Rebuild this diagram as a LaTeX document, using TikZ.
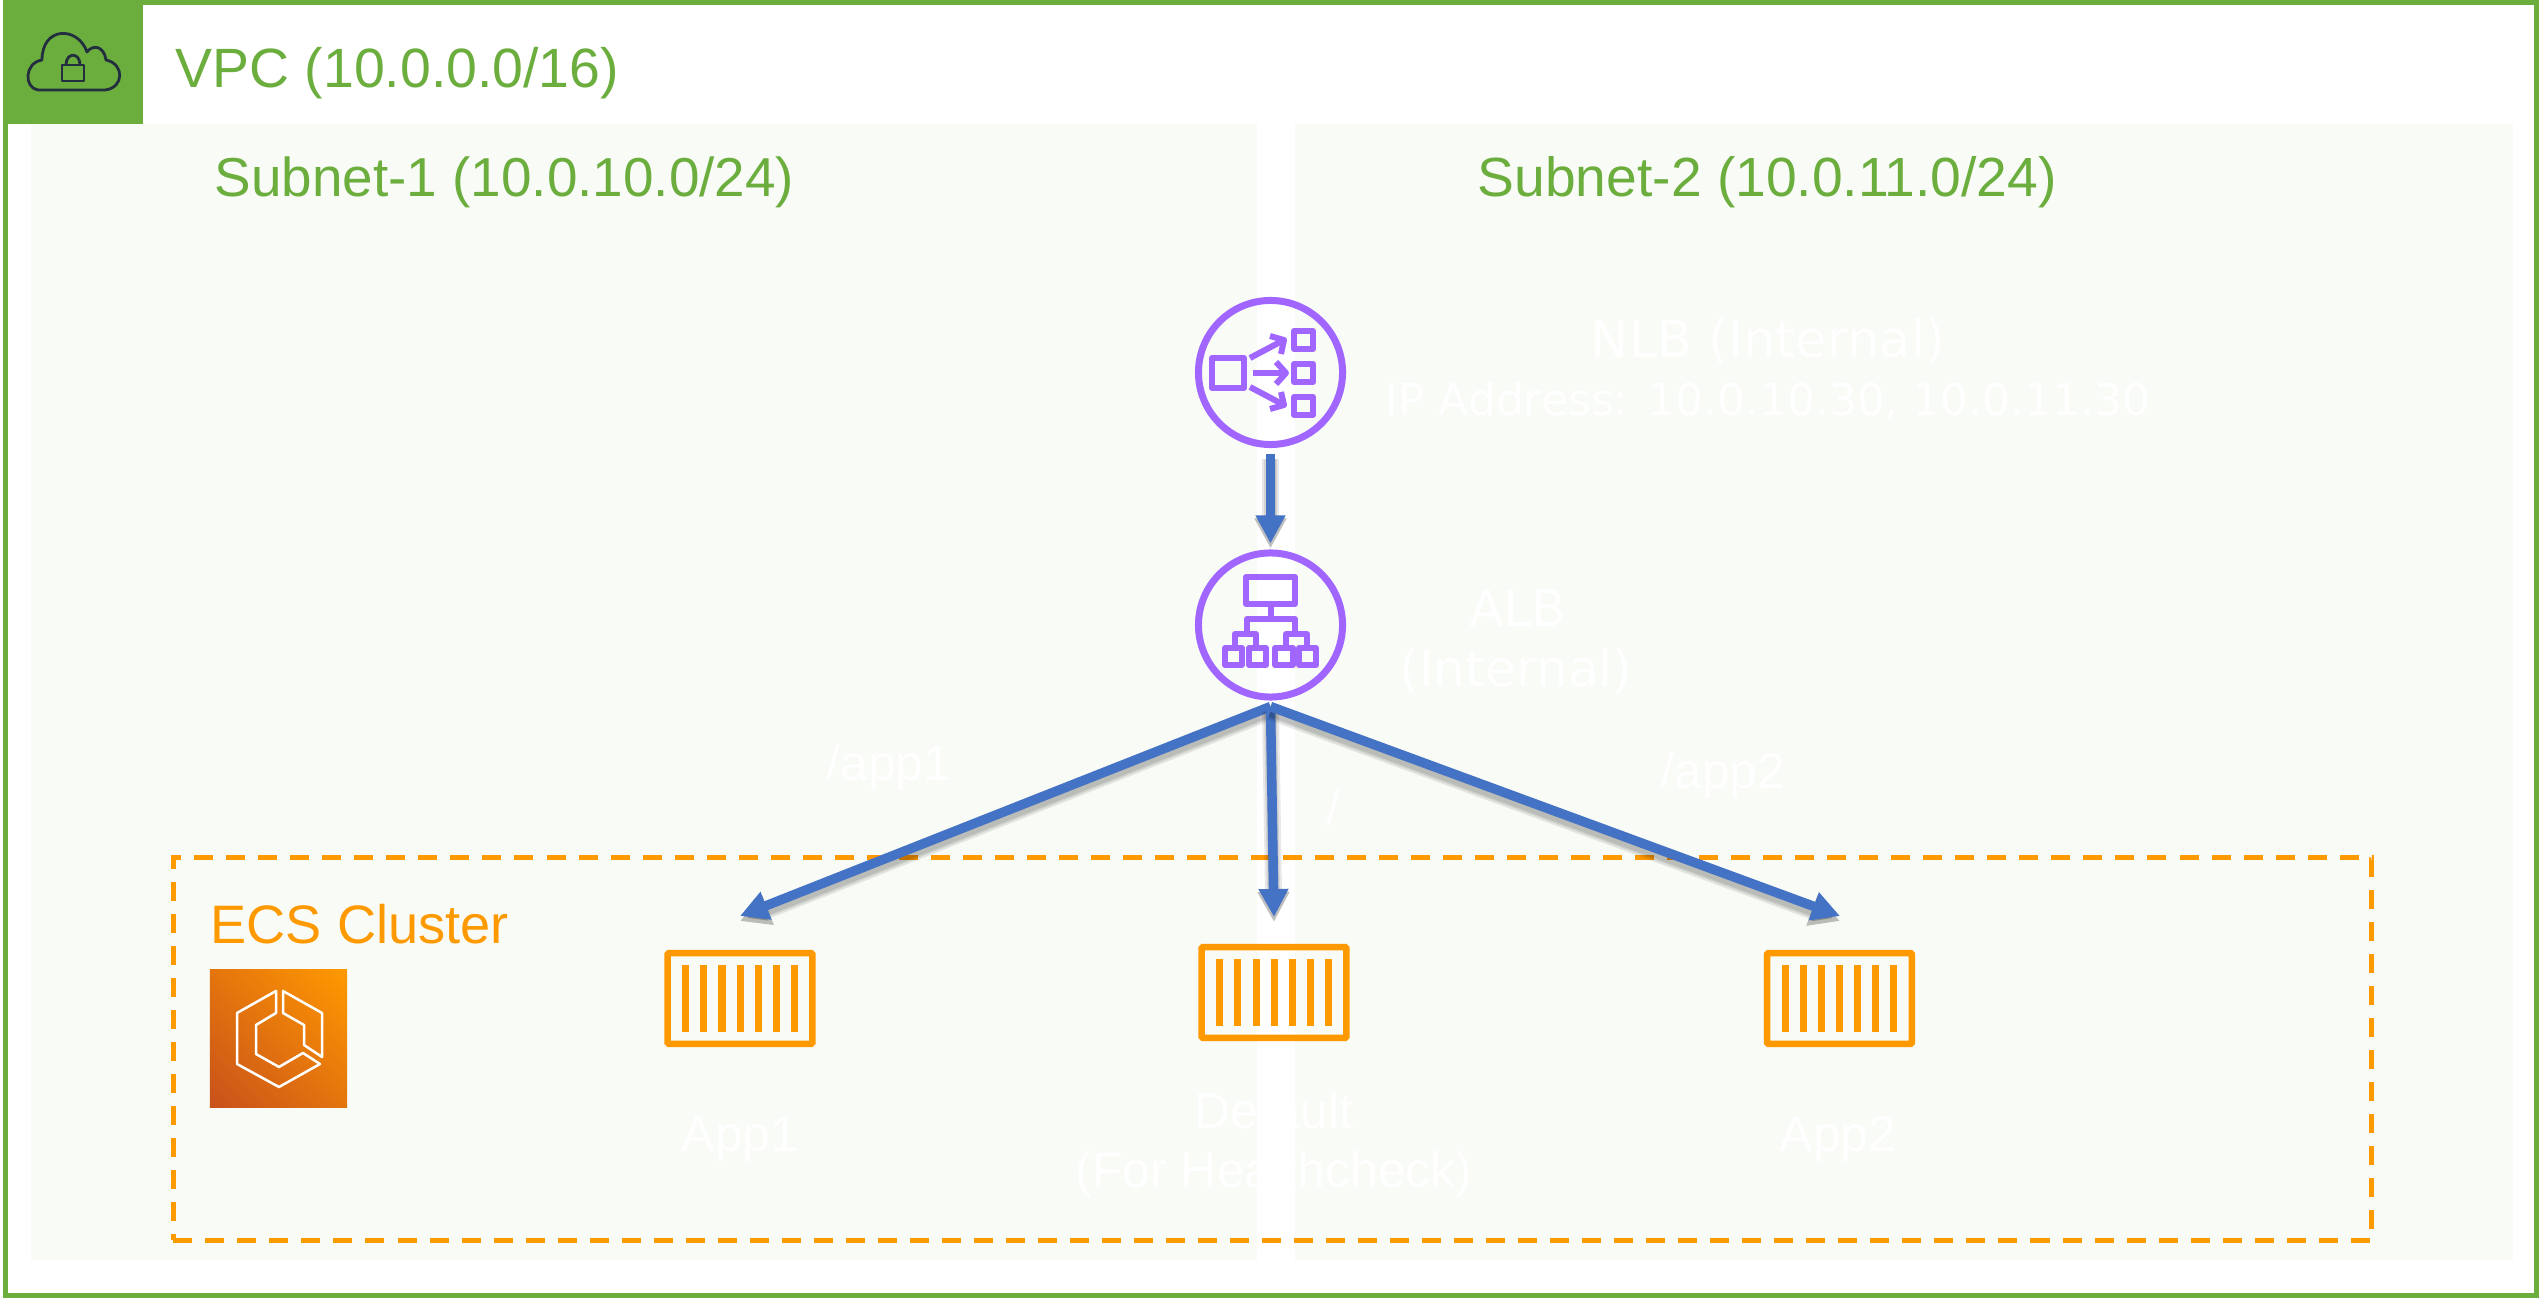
\documentclass[tikz,border=0pt]{standalone}
\usepackage{fontspec}
\usepackage{xcolor}
\usetikzlibrary{positioning, arrows.meta, shadings}
\setmainfont{Liberation Sans}
\newfontfamily\labelfont{DejaVu Sans}
\definecolor{vpcgreen}{HTML}{6CAE3E}
\definecolor{subnetbg}{HTML}{F8FBF6}
\definecolor{ecsorange}{HTML}{FF9900}
\definecolor{ecsdark}{HTML}{C8511B}
\definecolor{lbpurple}{HTML}{A166FF}
\definecolor{flowblue}{HTML}{4472C4}
\definecolor{iconink}{HTML}{232F3E}
\tikzset{
    vpcframe/.style={rectangle, draw=vpcgreen, line width=0.05cm, inner sep=0pt},
    vpctile/.style={rectangle, fill=vpcgreen, inner sep=0pt},
    subnetbox/.style={rectangle, fill=subnetbg, inner sep=0pt},
    grouptext/.style={anchor=base west, inner sep=0pt, font=\fontsize{15.6}{18}\selectfont},
    whitetext/.style={anchor=base, inner sep=0pt, text=white, align=center},
    clusterbox/.style={rectangle, draw=ecsorange, line width=0.052cm, dash pattern=on 0.19cm off 0.13cm, inner sep=0pt},
    ecstile/.style={rectangle, inner sep=0pt, minimum size=1.37cm, lower left=ecsdark, lower right=ecsorange!50!ecsdark, upper left=ecsorange!50!ecsdark, upper right=ecsorange},
    ecsline/.style={draw=white, line width=0.025cm, line join=round},
    lbcircle/.style={circle, draw=lbpurple, line width=0.07cm, minimum size=1.44cm, inner sep=0pt, outer sep=0.095cm},
    lbline/.style={draw=lbpurple, line width=0.06cm, line join=round},
    appbox/.style={rectangle, draw=ecsorange, line width=0.065cm, rounded corners=0.01cm, minimum width=1.445cm, minimum height=0.905cm, inner sep=0pt},
    appbar/.style={draw=ecsorange, line width=0.07cm},
    flowarrow/.style={draw=flowblue, line width=0.095cm, -{Triangle[width=0.28cm, length=0.28cm, fill=flowblue]}},
    flowshadow/.style={draw=black, opacity=0.09, line width=#1, -{Triangle[width=0.3cm, length=0.3cm]}, transform canvas={yshift=-0.05cm}},
}
\newcommand{\flowline}[2]{
    \draw[flowshadow=0.17cm] (#1) -- (#2);
    \draw[flowshadow=0.13cm] (#1) -- (#2);
    \draw[flowshadow=0.1cm] (#1) -- (#2);
    \draw[flowarrow] (#1) -- (#2);
}
\newcommand{\appbars}[1]{
    \foreach \k in {-3, ..., 3} {
        \draw[appbar] ([xshift=\k*0.18cm, yshift=0.33cm]#1.center) -- ([xshift=\k*0.18cm, yshift=-0.33cm]#1.center);
    }
}
\begin{document}
\begin{tikzpicture}[x=0.01cm, y=-0.01cm]
            \useasboundingbox (0, 0) rectangle (2539, 1301);
            \fill[white] (0, 0) rectangle (2539, 1301);

            \node[vpcframe, minimum width=25.29cm, minimum height=12.915cm] (vpc) at (1271, 649) {};
            \node[vpctile, minimum width=1.39cm, minimum height=1.2cm] (vpcicon) at (73.5, 64) {};
            \node[subnetbox, minimum width=12.26cm, minimum height=11.36cm] (subnet1) at (644, 692) {};
            \node[subnetbox, minimum width=12.18cm, minimum height=11.36cm] (subnet2) at (1904, 692) {};

            \draw[iconink, line width=0.028cm, line join=round] (38, 90) .. controls (24, 88) and (24, 63) .. (42, 60) .. controls (42, 26) and (78, 26) .. (87, 52) .. controls (93, 44) and (104, 46) .. (106, 60) .. controls (125, 64) and (124, 88) .. (105, 90) -- cycle;
            \draw[iconink, line width=0.028cm, line join=round] (62, 65) rectangle (84, 81);
            \draw[iconink, line width=0.028cm] (66, 65) .. controls (66, 52) and (80, 52) .. (80, 65);

            \node[grouptext, text=vpcgreen, font=\fontsize{15.75}{18}\selectfont] (vpctext) at (175, 88) {VPC (10.0.0.0/16)};
            \node[grouptext, text=vpcgreen] (subnet1text) at (214, 197) {Subnet-1 (10.0.10.0/24)};
            \node[grouptext, text=vpcgreen, font=\fontsize{15.7}{18}\selectfont] (subnet2text) at (1477, 197) {Subnet-2 (10.0.11.0/24)};

            \node[clusterbox, minimum width=21.97cm, minimum height=3.82cm] (cluster) at (1272.5, 1049) {};
            \node[grouptext, text=ecsorange, font=\fontsize{15.4}{18}\selectfont] (clustertext) at (210, 944) {ECS Cluster};
            \node[ecstile] (ecs) at (278.5, 1038.5) {};
            \draw[ecsline] (276, 991) -- (237, 1013) -- (237, 1064) -- (279, 1087) -- (320, 1064) -- (303, 1053) -- (279, 1067) -- (256, 1054) -- (256, 1025) -- (276, 1013) -- cycle;
            \draw[ecsline] (283, 991) -- (322, 1013) -- (322, 1057) -- (304, 1045) -- (304, 1025) -- (283, 1013) -- cycle;

            \node[lbcircle] (nlb) at (1270.5, 372.5) {};
            \node[lbcircle] (alb) at (1270.5, 625) {};

            \draw[lbline] (1212, 358) rectangle (1244, 388);
            \draw[lbline] (1294, 331) rectangle (1313, 349);
            \draw[lbline] (1294, 364) rectangle (1313, 382);
            \draw[lbline] (1294, 397) rectangle (1313, 415);
            \draw[lbline] (1250, 358) -- (1284, 340);
            \draw[lbline] (1270, 336) -- (1284, 340) -- (1281, 354);
            \draw[lbline] (1253, 373) -- (1286, 373);
            \draw[lbline] (1276, 362) -- (1286, 373) -- (1276, 384);
            \draw[lbline] (1250, 387) -- (1284, 405);
            \draw[lbline] (1270, 409) -- (1284, 405) -- (1281, 392);

            \draw[lbline] (1246, 577) rectangle (1295, 604);
            \draw[lbline] (1271, 604) -- (1271, 619);
            \draw[lbline] (1247, 633) -- (1247, 619) -- (1295, 619) -- (1295, 633);
            \draw[lbline] (1235, 648) -- (1235, 634) -- (1256, 634) -- (1256, 648);
            \draw[lbline] (1286, 648) -- (1286, 634) -- (1307, 634) -- (1307, 648);
            \draw[lbline] (1225, 648) rectangle (1242, 665);
            \draw[lbline] (1249, 648) rectangle (1266, 665);
            \draw[lbline] (1275, 648) rectangle (1293, 665);
            \draw[lbline] (1299, 648) rectangle (1316, 665);

            \node[appbox] (app1) at (740, 998.5) {};
            \node[appbox] (default) at (1274, 992.5) {};
            \node[appbox] (app2) at (1839.5, 998.5) {};
            \appbars{app1}
            \appbars{default}
            \appbars{app2}

            \coordinate (app1in) at (740, 916);
            \coordinate (defaultin) at (1274, 917);
            \coordinate (app2in) at (1840, 916);

            \flowline{nlb.south}{alb.north}
            \flowline{alb.south}{app1in}
            \flowline{alb.south}{defaultin}
            \flowline{alb.south}{app2in}

            \node[whitetext, font=\labelfont\fontsize{14.5}{17}\selectfont] (nlbtext) at (1768, 358) {NLB (Internal)};
            \node[whitetext, font=\labelfont\fontsize{12.5}{15}\selectfont] (nlbaddr) at (1768, 416) {IP Address: 10.0.10.30, 10.0.11.30};
            \node[whitetext, font=\labelfont\fontsize{14.3}{17}\selectfont] (albtext) at (1518, 627) {ALB};
            \node[whitetext, font=\labelfont\fontsize{14.3}{17}\selectfont] (albnote) at (1516, 687) {(Internal)};
            \node[whitetext, font=\fontsize{14.2}{17}\selectfont] (app1path) at (889, 781) {/app1};
            \node[whitetext, font=\fontsize{14.2}{17}\selectfont] (rootpath) at (1333, 826) {/};
            \node[whitetext, font=\fontsize{14.2}{17}\selectfont] (app2path) at (1723, 789) {/app2};
            \node[whitetext, font=\fontsize{14.2}{17}\selectfont] (app1text) at (740, 1152) {App1};
            \node[whitetext, font=\fontsize{14.2}{17}\selectfont] (defaulttext) at (1274, 1128) {Default};
            \node[whitetext, font=\fontsize{14.2}{17}\selectfont] (defaultnote) at (1274, 1188) {(For Healthcheck)};
            \node[whitetext, font=\fontsize{14.2}{17}\selectfont] (app2text) at (1838, 1152) {App2};
        \end{tikzpicture}
\end{document}
